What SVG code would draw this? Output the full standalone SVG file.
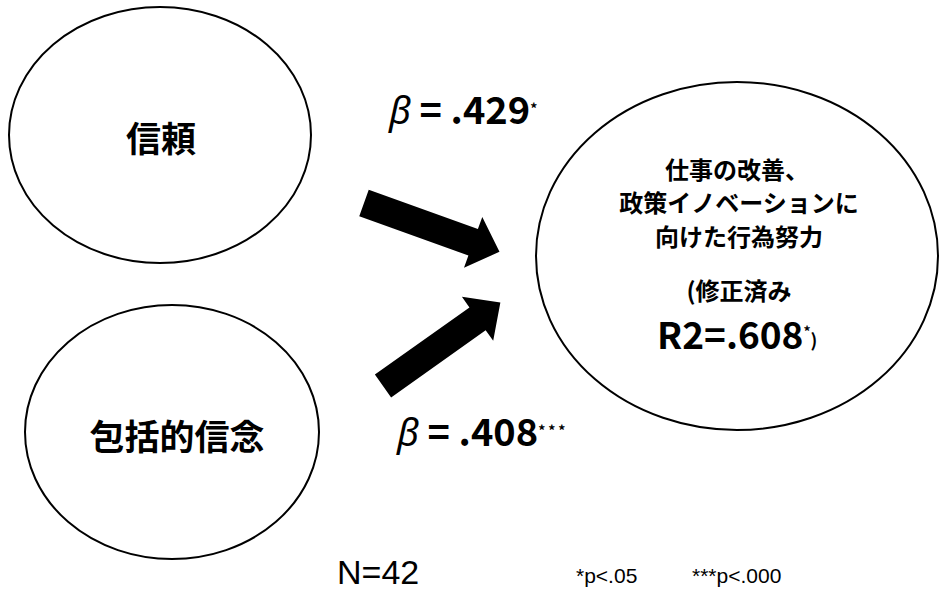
<svg xmlns="http://www.w3.org/2000/svg" width="941" height="593" viewBox="0 0 941 593">
<style>
.node ellipse{fill:#fff;stroke:#000;stroke-width:2}
text{font-family:"Noto Sans CJK JP","Noto Sans",sans-serif;fill:#000}
.big{font-size:35px;font-weight:bold;text-anchor:middle}
.mid{font-size:24px;font-weight:bold;text-anchor:middle}
.beta{font-size:38px;font-weight:bold}
.greek{font-family:"Noto Sans",sans-serif;font-style:italic;font-weight:normal}
.foot{font-family:"Liberation Sans","Noto Sans",sans-serif}
.arrow{fill:#000}
</style>
<defs>
<polygon id="arr" points="0,-14 116,-14 116,-27 144,0 116,27 116,14 0,14"/>
</defs>
<rect width="941" height="593" fill="#fff"/>
<g id="trust" class="node">
<ellipse cx="160" cy="135" rx="151" ry="128"/>
<text class="big" x="161" y="152">信頼</text>
</g>
<g id="belief" class="node">
<ellipse cx="172" cy="432" rx="147" ry="127"/>
<text class="big" x="177" y="450">包括的信念</text>
</g>
<g id="effort" class="node">
<ellipse cx="737" cy="256" rx="201" ry="174"/>
<text class="mid" x="737" y="179">仕事の改善、</text>
<text class="mid" x="739" y="212">政策イノベーションに</text>
<text class="mid" x="739" y="246">向けた行為努力</text>
<text class="mid" x="739" y="300" font-size="20">(修正済み</text>
<text x="657" y="349" font-size="37" font-weight="bold">R2=.608<tspan font-size="14" dy="-12">*</tspan><tspan font-size="18" dy="10">)</tspan></text>
</g>
<g id="connectors" class="arrow">
<use href="#arr" transform="translate(364,203) rotate(19.8)"/>
<use href="#arr" transform="translate(383,386) rotate(-35.4)"/>
</g>
<g id="labels">
<text class="beta" x="389" y="124"><tspan class="greek">β</tspan> = .429<tspan font-size="14" dy="-10">*</tspan></text>
<text class="beta" x="397" y="446" font-size="36"><tspan class="greek">β</tspan> = .408<tspan font-size="14" dy="-10" letter-spacing="3">***</tspan></text>
<text class="foot" x="337" y="584" font-size="34">N=42</text>
<text class="foot" x="576" y="583" font-size="21">*p&lt;.05</text>
<text class="foot" x="692" y="583" font-size="21">***p&lt;.000</text>
</g>
</svg>
